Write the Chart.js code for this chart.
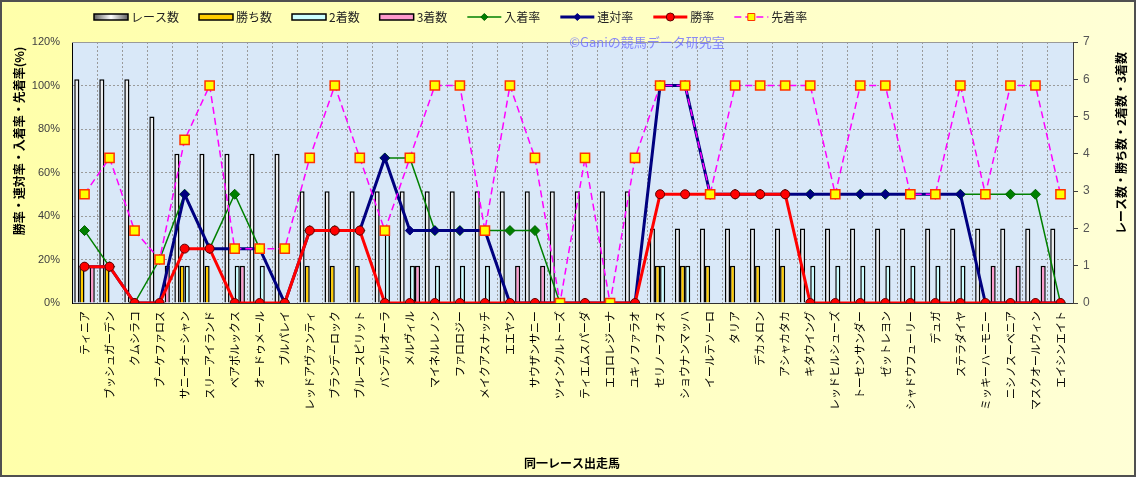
<!DOCTYPE html>
<html>
<head>
<meta charset="utf-8">
<script src="https://cdn.jsdelivr.net/npm/chart.js@4.4.1/dist/chart.umd.min.js"></script>
<style>
  body { margin: 0; background: #fff; }
  #wrap { width: 1136px; height: 477px; }
</style>
</head>
<body>
<div id="wrap"><canvas id="myChart" width="1136" height="477"></canvas></div>
<script>
const horses = [
  'ティニア', 'ブッシュガーデン', 'クムシラコ', 'ブーケファロス', 'サニーオーシャン',
  'スリーアイランド', 'ベアポルックス', 'オードゥメール', 'ブルパレイ', 'レッドアヴァンティ',
  'ブランデーロック', 'ブルースピリット', 'バンデルオーラ', 'メルヴィル', 'マイネルレノン',
  'ファロロジー', 'メイクアスナッチ', 'エエヤン', 'サウザンサニー', 'ツインクルトーズ',
  'ティエムスパーダ', 'エコロレジーナ', 'ユキノファラオ', 'セリノーフォス', 'ショウナンマッハ',
  'イールテソーロ', 'タリア', 'デカメロン', 'アシャカタカ', 'キタウイング',
  'レッドヒルシューズ', 'トーセンサンダー', 'ゼットレヨン', 'シャドウフューリー', 'デュガ',
  'ステラダイヤ', 'ミッキーハーモニー', 'ニシノスーベニア', 'マスクオールウィン', 'エイシンエイト'
];

// counts (right axis)
const raceCounts = [6,6,6,5,4,4,4,4,4,3, 3,3,3,3,3,3,3,3,3,3, 3,3,3,2,2,2,2,2,2,2, 2,2,2,2,2,2,2,2,2,2];
const wins       = [1,1,0,0,1,1,0,0,0,1, 1,1,0,0,0,0,0,0,0,0, 0,0,0,1,1,1,1,1,1,0, 0,0,0,0,0,0,0,0,0,0];
const seconds    = [0,0,0,0,1,0,1,1,0,0, 0,0,2,1,1,1,1,0,0,0, 0,0,0,1,1,0,0,0,0,1, 1,1,1,1,1,1,0,0,0,0];
const thirds     = [1,0,0,1,0,0,1,0,0,0, 0,0,0,1,0,0,0,1,1,0, 0,0,0,0,0,0,0,0,0,0, 0,0,0,0,0,0,1,1,1,0];

// rates in % (left axis)
const placeRate = [33.3,16.7,0,20,50,25,50,25,0,33.3, 33.3,33.3,66.7,66.7,33.3,33.3,33.3,33.3,33.3,0, 0,0,0,100,100,50,50,50,50,50, 50,50,50,50,50,50,50,50,50,0];
const quinellaRate = [16.7,16.7,0,0,50,25,25,25,0,33.3, 33.3,33.3,66.7,33.3,33.3,33.3,33.3,0,0,0, 0,0,0,100,100,50,50,50,50,50, 50,50,50,50,50,50,0,0,0,0];
const winRate = [16.7,16.7,0,0,25,25,0,0,0,33.3, 33.3,33.3,0,0,0,0,0,0,0,0, 0,0,0,50,50,50,50,50,50,0, 0,0,0,0,0,0,0,0,0,0];
const aheadRate = [50,66.7,33.3,20,75,100,25,25,25,66.7, 100,66.7,33.3,66.7,100,100,33.3,100,66.7,0, 66.7,0,66.7,100,100,50,100,100,100,100, 50,100,100,50,50,100,50,100,100,50];

const jp = '"Noto Sans CJK JP", "Noto Sans", sans-serif';

function drawMarker(ctx, style, r, fill, stroke, lw, x, y) {
  ctx.save();
  ctx.fillStyle = fill;
  ctx.strokeStyle = stroke;
  ctx.lineWidth = lw;
  ctx.setLineDash([]);
  ctx.beginPath();
  if (style === 'circle') {
    ctx.arc(x, y, r, 0, Math.PI * 2);
  } else if (style === 'rect') {
    ctx.rect(x - r, y - r, r * 2, r * 2);
  } else {
    ctx.moveTo(x, y - r); ctx.lineTo(x + r, y); ctx.lineTo(x, y + r); ctx.lineTo(x - r, y);
    ctx.closePath();
  }
  ctx.fill();
  ctx.stroke();
  ctx.restore();
}

const decor = {
  id: 'decor',
  beforeDraw(chart) {
    const { ctx, chartArea: a, width, height } = chart;
    ctx.save();
    const bg = ctx.createLinearGradient(0, 0, width, 0);
    bg.addColorStop(0, '#ffffaa');
    bg.addColorStop(1, '#ffffd6');
    ctx.fillStyle = bg;
    ctx.fillRect(0, 0, width, height);
    ctx.fillStyle = '#d9e8f8';
    ctx.fillRect(a.left, a.top, a.right - a.left, a.bottom - a.top);
    ctx.restore();
  },
  afterDraw(chart) {
    const { ctx, chartArea: a, width, height } = chart;
    ctx.save();
    ctx.strokeStyle = '#9a9a9a';
    ctx.lineWidth = 1;
    ctx.beginPath();
    ctx.moveTo(a.left, a.top + 0.5); ctx.lineTo(a.right, a.top + 0.5);
    ctx.stroke();

    // axis titles
    ctx.fillStyle = '#000';
    ctx.font = 'bold 12px ' + jp;
    ctx.textAlign = 'center';
    ctx.textBaseline = 'middle';
    ctx.save();
    ctx.translate(19, 141);
    ctx.rotate(-Math.PI / 2);
    ctx.fillText('勝率・連対率・入着率・先着率(%)', 0, 0);
    ctx.restore();
    ctx.save();
    ctx.translate(1121, 143);
    ctx.rotate(-Math.PI / 2);
    ctx.fillText('レース数・勝ち数・2着数・3着数', 0, 0);
    ctx.restore();
    ctx.fillText('同一レース出走馬', 572, 463);

    // watermark
    ctx.font = '13px ' + jp;
    ctx.fillStyle = 'rgba(110, 110, 255, 0.8)';
    ctx.fillText('©Ganiの競馬データ研究室', 647, 42);

    // legend
    let x = 94;
    const y = 17;
    chart.data.datasets.forEach(ds => {
      if (ds.type === 'line') {
        ctx.save();
        ctx.strokeStyle = ds.borderColor;
        ctx.lineWidth = ds.borderWidth;
        ctx.setLineDash(ds.borderDash || []);
        ctx.beginPath();
        ctx.moveTo(x, y); ctx.lineTo(x + 34, y);
        ctx.stroke();
        ctx.restore();
        drawMarker(ctx, ds.pointStyle === 'rectRot' ? 'diamond' : ds.pointStyle,
          ds.legendMarker, ds.pointBackgroundColor, ds.pointBorderColor, 1, x + 17, y);
      } else {
        ctx.save();
        if (ds.legendGradient) {
          const g = ctx.createLinearGradient(x, 0, x + 34, 0);
          g.addColorStop(0, '#606060'); g.addColorStop(0.5, '#ffffff'); g.addColorStop(1, '#606060');
          ctx.fillStyle = g;
        } else {
          ctx.fillStyle = ds.backgroundColor;
        }
        ctx.fillRect(x, y - 3, 34, 6);
        ctx.strokeStyle = '#000';
        ctx.lineWidth = 1.5;
        ctx.strokeRect(x, y - 3, 34, 6);
        ctx.restore();
      }
      ctx.font = '12px ' + jp;
      ctx.fillStyle = '#222';
      ctx.textAlign = 'left';
      ctx.fillText(ds.label, x + 37, y);
      x += 37 + ctx.measureText(ds.label).width + 20;
    });

    // outer frame
    ctx.strokeStyle = '#505050';
    ctx.lineWidth = 2;
    ctx.strokeRect(1, 1, width - 2, height - 2);
    ctx.restore();
  }
};

new Chart(document.getElementById('myChart'), {
  type: 'bar',
  data: {
    labels: horses,
    datasets: [
      { label: 'レース数', data: raceCounts, yAxisID: 'y1', backgroundColor: '#eeeeee',
        borderColor: '#000', borderWidth: 1.5, order: 4, legendGradient: true },
      { label: '勝ち数', data: wins, yAxisID: 'y1', backgroundColor: '#ffcc00',
        borderColor: '#000', borderWidth: 1.5, order: 5 },
      { label: '2着数', data: seconds, yAxisID: 'y1', backgroundColor: '#ccffff',
        borderColor: '#000', borderWidth: 1.5, order: 6 },
      { label: '3着数', data: thirds, yAxisID: 'y1', backgroundColor: '#ff99cc',
        borderColor: '#000', borderWidth: 1.5, order: 7 },
      { type: 'line', label: '入着率', data: placeRate, yAxisID: 'y', borderColor: '#008000',
        borderWidth: 1.5, pointStyle: 'rectRot', pointRadius: 5, pointBackgroundColor: '#008000',
        pointBorderColor: '#006000', pointBorderWidth: 1, order: 3, legendMarker: 3.5 },
      { type: 'line', label: '連対率', data: quinellaRate, yAxisID: 'y', borderColor: '#000080',
        borderWidth: 3, pointStyle: 'rectRot', pointRadius: 4.5, pointBackgroundColor: '#000080',
        pointBorderColor: '#000080', pointBorderWidth: 1, order: 2, legendMarker: 3.5 },
      { type: 'line', label: '勝率', data: winRate, yAxisID: 'y', borderColor: '#ff0000',
        borderWidth: 3, pointStyle: 'circle', pointRadius: 4.5, pointBackgroundColor: '#ff0000',
        pointBorderColor: '#600000', pointBorderWidth: 1, order: 1, legendMarker: 4 },
      { type: 'line', label: '先着率', data: aheadRate, yAxisID: 'y', borderColor: '#ff00ff',
        borderWidth: 1.5, borderDash: [7, 4], pointStyle: 'rect', pointRadius: 6.5,
        pointBackgroundColor: '#ffff00', pointBorderColor: '#ff3300', pointBorderWidth: 1.5,
        order: 0, legendMarker: 3.5 }
    ]
  },
  options: {
    responsive: false,
    animation: false,
    devicePixelRatio: 1,
    layout: { padding: { top: 42, left: 0, right: 0, bottom: 0 } },
    datasets: { bar: { categoryPercentage: 0.82, barPercentage: 1.0 } },
    plugins: { legend: { display: false }, tooltip: { enabled: false } },
    scales: {
      x: {
        offset: true,
        grid: { offset: true, color: '#9a9a9a', drawTicks: false },
        border: { color: '#303030', dash: [2, 2] },
        ticks: { autoSkip: false, minRotation: 90, maxRotation: 90, padding: 8,
          color: '#000', font: { family: jp, size: 11 } },
        afterFit(scale) { scale.height = 174; }
      },
      y: {
        position: 'left', min: 0, max: 120,
        grid: { color: '#9a9a9a', drawTicks: false },
        border: { color: '#000', dash: [2, 2] },
        ticks: { stepSize: 20, padding: 12, color: '#404040',
          font: { family: '"Liberation Sans", Arial, sans-serif', size: 11 },
          callback: v => v + '%' },
        afterFit(scale) { scale.width = 72; }
      },
      y1: {
        position: 'right', min: 0, max: 7,
        grid: { drawOnChartArea: false, tickLength: 5, color: '#404040' },
        border: { color: '#404040' },
        ticks: { stepSize: 1, padding: 5, color: '#555',
          font: { family: '"Liberation Sans", Arial, sans-serif', size: 12 } },
        afterFit(scale) { scale.width = 63; }
      }
    }
  },
  plugins: [decor]
});
</script>
</body>
</html>
